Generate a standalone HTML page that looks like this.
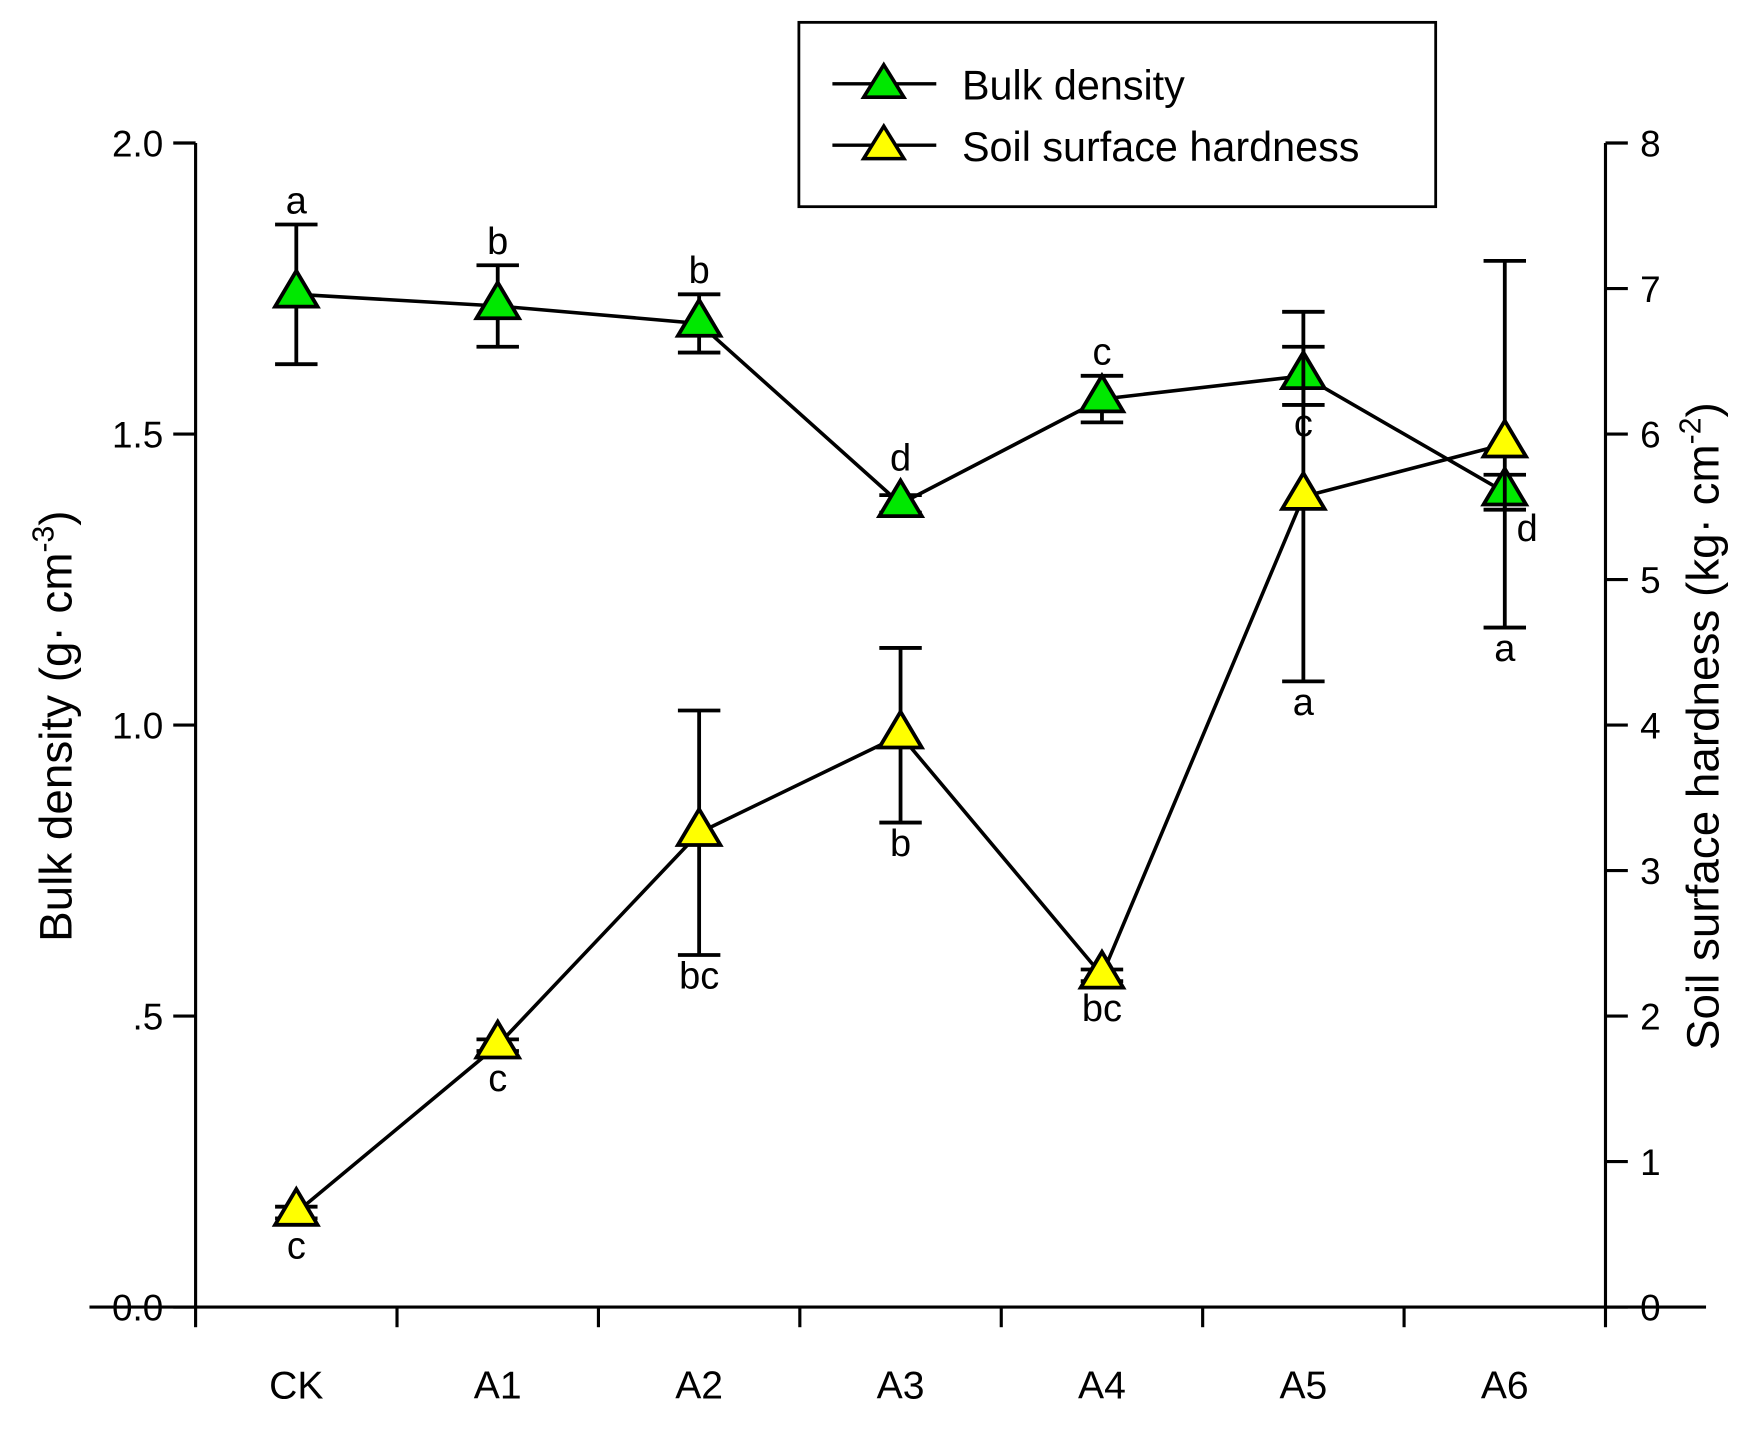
<!DOCTYPE html>
<html><head><meta charset="utf-8"><style>
html,body{margin:0;padding:0;background:#fff;}
svg{display:block;}
text{font-family:"Liberation Sans",Arial,sans-serif;fill:#000;}
</style></head><body>
<svg id="chart" width="1743" height="1430" viewBox="0 0 1560 1280" xmlns="http://www.w3.org/2000/svg">
<g id="axes"></g>
<g id="series"></g>
<g>
<rect x="715" y="20" width="570" height="165" fill="#fff" stroke="#000" stroke-width="2.5"/>
<g>
<line x1="745" y1="75" x2="838" y2="75" stroke="#000" stroke-width="3"/>
<polygon points="791,58 809,87 773,87" fill="#00e800" stroke="#000" stroke-width="3.2"/>
<text x="861" y="89" font-size="37">Bulk density</text></g>
<g>
<line x1="745" y1="130" x2="838" y2="130" stroke="#000" stroke-width="3"/>
<polygon points="791,113 809,142 773,142" fill="#ffff00" stroke="#000" stroke-width="3.2"/>
<text x="861" y="144" font-size="37">Soil surface hardness</text></g>
</g>
<text transform="translate(64,650) rotate(-90)" text-anchor="middle" font-size="41">Bulk density (g· cm<tspan dy="-16" font-size="27">-3</tspan><tspan dy="16">)</tspan></text>
<text transform="translate(1538,650) rotate(-90)" text-anchor="middle" font-size="41">Soil surface hardness (kg· cm<tspan dy="-16" font-size="27">-2</tspan><tspan dy="16">)</tspan></text>
</svg>
<script>
const categories = ["CK","A1","A2","A3","A4","A5","A6"];
const bulkDensity = [1.74,1.72,1.69,1.38,1.56,1.60,1.40];
const bulkErr = [0.12,0.07,0.05,0.015,0.04,0.05,0.03];
const bulkLetters = ["a","b","b","d","c","c","d"];
const bulkLetterPos = ["above","above","above","above","above","below","below"];
const hardness = [0.65,1.8,3.26,3.93,2.28,5.57,5.93];
const hardErr = [0.04,0.04,0.84,0.6,0.04,1.27,1.26];
const hardLetters = ["c","c","bc","b","bc","a","a"];
const leftTicks = [0,0.5,1.0,1.5,2.0];
const leftTickLabels = ["0.0",".5","1.0","1.5","2.0"];
const rightTicks = [0,1,2,3,4,5,6,7,8];

const NS="http://www.w3.org/2000/svg";
const X0=175, X1=1437, YT=128, YB=1170;
const bw=(X1-X0)/categories.length;
const xS=i=>X0+bw*(i+0.5);
const yL=v=>YB-(v/2)*(YB-YT);
const yR=v=>YB-(v/8)*(YB-YT);
function mk(tag,attrs,parent,txt){const e=document.createElementNS(NS,tag);for(const k in attrs)e.setAttribute(k,attrs[k]);if(txt!==undefined)e.textContent=txt;parent.appendChild(e);return e;}
const axes=document.getElementById('axes'), ser=document.getElementById('series');
let e;
e=mk('line',{x1:80,y1:YB,x2:1527,y2:YB,stroke:'#000','stroke-width':2.8},axes);


e=mk('line',{x1:X0,y1:YT,x2:X0,y2:YB,stroke:'#000','stroke-width':2.8},axes);


e=mk('line',{x1:X1,y1:YT,x2:X1,y2:YB,stroke:'#000','stroke-width':2.8},axes);


leftTicks.forEach((v,i)=>{
  mk('line',{x1:X0-20,y1:yL(v),x2:X0,y2:yL(v),stroke:'#000','stroke-width':2.8},axes);
  e=mk('text',{x:146,y:yL(v)+12,'text-anchor':'end','font-size':33},axes,leftTickLabels[i]);
  
  
});
rightTicks.forEach(v=>{
  mk('line',{x1:X1,y1:yR(v),x2:X1+20,y2:yR(v),stroke:'#000','stroke-width':2.8},axes);
  e=mk('text',{x:1468,y:yR(v)+12,'font-size':33},axes,String(v));
  
  
});
for(let i=0;i<=categories.length;i++){
  mk('line',{x1:X0+bw*i,y1:YB,x2:X0+bw*i,y2:YB+18,stroke:'#000','stroke-width':2.8},axes);
}
categories.forEach((c,i)=>{
  e=mk('text',{x:xS(i),y:1252,'text-anchor':'middle','font-size':35},axes,c);
  
  
});
function drawSeries(vals,errs,yf,fill,name){
  const g=mk('g',{},ser);
  
  
  const pts=vals.map((v,i)=>xS(i)+','+yf(v)).join(' ');
  mk('polyline',{points:pts,fill:'none',stroke:'#000','stroke-width':3.2},g);
  vals.forEach((v,i)=>{
    const x=xS(i),t=yf(v+errs[i]),b=yf(v-errs[i]);
    mk('line',{x1:x,y1:t,x2:x,y2:b,stroke:'#000','stroke-width':3.4},g);
    mk('line',{x1:x-19,y1:t,x2:x+19,y2:t,stroke:'#000','stroke-width':3.4},g);
    mk('line',{x1:x-19,y1:b,x2:x+19,y2:b,stroke:'#000','stroke-width':3.4},g);
  });
  vals.forEach((v,i)=>{
    const x=xS(i),y=yf(v);
    const p=mk('polygon',{points:`${x},${y-21} ${x+19},${y+11} ${x-19},${y+11}`,fill:fill,stroke:'#000','stroke-width':3.4},g);
    
    
  });
}
drawSeries(bulkDensity,bulkErr,yL,'#00e800','bulk-density-series');
drawSeries(hardness,hardErr,yR,'#ffff00','soil-hardness-series');
bulkDensity.forEach((v,i)=>{
  let x=xS(i),y;
  if(bulkLetterPos[i]==='above'){y=Math.min(yL(v+bulkErr[i]),yL(v)-20)-10;}
  else{y=yL(v-bulkErr[i])+28;if(i===categories.length-1)x+=20;}
  e=mk('text',{x:x,y:y,'text-anchor':'middle','font-size':34},ser,bulkLetters[i]);
  
  
});
hardness.forEach((v,i)=>{
  const y=Math.max(yR(v-hardErr[i]),yR(v)+11)+30;
  e=mk('text',{x:xS(i),y:y,'text-anchor':'middle','font-size':34},ser,hardLetters[i]);
  
  
});
</script>
</body></html>
